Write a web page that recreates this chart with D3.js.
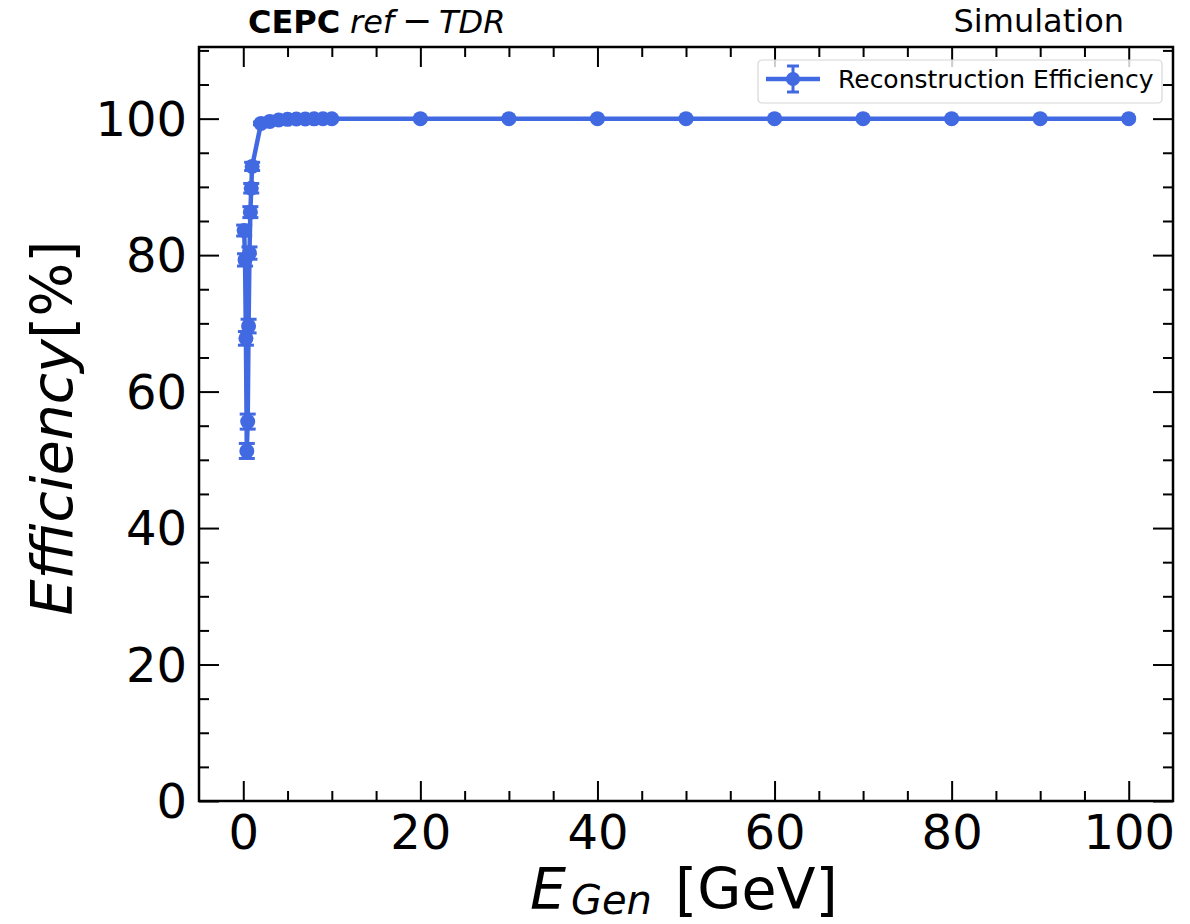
<!DOCTYPE html>
<html>
<head>
<meta charset="utf-8">
<script src="https://cdn.jsdelivr.net/npm/d3@7"></script>
<style>
    body { margin: 0; background: #ffffff; }
    text { font-family: "DejaVu Sans", sans-serif; }
</style>
</head>
<body>
<script>
// Generated energies in GeV and the reconstruction efficiency in percent
var energies = [0.1, 0.2, 0.3, 0.4, 0.5, 0.6, 0.7, 0.8, 0.9, 1,
    2, 3, 4, 5, 6, 7, 8, 9, 10,
    20, 30, 40, 50, 60, 70, 80, 90, 100];
var efficiency = [83.6, 79.3, 67.8, 51.3, 55.6, 69.6, 80.3, 86.3, 89.8, 93.0,
    99.3, 99.6, 99.8, 99.9, 99.95, 99.95, 99.97, 99.98, 99.98,
    100, 100, 100, 100, 100, 100, 100, 100, 100];
var efficiencyErr = [0.8, 0.9, 1.0, 1.1, 1.1, 1.0, 0.9, 0.8, 0.7, 0.6,
    0.2, 0.1, 0.1, 0.05, 0.05, 0.05, 0.03, 0.02, 0.02,
    0, 0, 0, 0, 0, 0, 0, 0, 0];

// Axis ticks
var xMajorTicks = [0, 20, 40, 60, 80, 100];
var yMajorTicks = [0, 20, 40, 60, 80, 100];
var minorStep = 5;

var seriesName = "Reconstruction Efficiency";
var colour = "#4169e1";

// Size of the canvas and the frame of the plot
var margin = { top: 47, right: 17, bottom: 123, left: 199 },
    width = 1190 - margin.left - margin.right,
    height = 924 - margin.top - margin.bottom;

var svg = d3.select("body").append("svg")
    .attr("width", 1190)
    .attr("height", 924);

var g = svg.append("g")
    .attr("transform", "translate(" + margin.left + "," + margin.top + ")");

var x = d3.scaleLinear().domain([-5, 105]).range([0, width]);
var y = d3.scaleLinear().domain([0, 110.5]).range([height, 0]);

var data = energies.map(function (e, i) {
    return { e: e, v: efficiency[i], err: efficiencyErr[i] };
});

drawTicks();
drawSeries();
drawFrame();
drawLegend();
drawTexts();

// Inward ticks on all four sides, majors every 20 and minors every 5
function drawTicks() {
    var xMinor = d3.range(0, 100 + 0.1, minorStep).filter(function (v) { return xMajorTicks.indexOf(v) < 0; });
    var yMinor = d3.range(0, 110 + 0.1, minorStep).filter(function (v) { return yMajorTicks.indexOf(v) < 0; });

    var bottom = g.append("g").attr("transform", "translate(0," + height + ")")
        .call(d3.axisBottom(x).tickValues(xMajorTicks).tickSizeInner(-20).tickSizeOuter(0).tickPadding(32));
    g.append("g")
        .call(d3.axisTop(x).tickValues(xMajorTicks).tickSizeInner(-20).tickSizeOuter(0).tickFormat(""));
    var left = g.append("g")
        .call(d3.axisLeft(y).tickValues(yMajorTicks).tickSizeInner(-20).tickSizeOuter(0).tickPadding(32));
    g.append("g").attr("transform", "translate(" + width + ",0)")
        .call(d3.axisRight(y).tickValues(yMajorTicks).tickSizeInner(-20).tickSizeOuter(0).tickFormat(""));

    g.append("g").attr("transform", "translate(0," + height + ")")
        .call(d3.axisBottom(x).tickValues(xMinor).tickSizeInner(-10).tickSizeOuter(0).tickFormat(""));
    g.append("g")
        .call(d3.axisTop(x).tickValues(xMinor).tickSizeInner(-10).tickSizeOuter(0).tickFormat(""));
    g.append("g")
        .call(d3.axisLeft(y).tickValues(yMinor).tickSizeInner(-10).tickSizeOuter(0).tickFormat(""));
    g.append("g").attr("transform", "translate(" + width + ",0)")
        .call(d3.axisRight(y).tickValues(yMinor).tickSizeInner(-10).tickSizeOuter(0).tickFormat(""));

    g.selectAll(".domain").remove();
    g.selectAll(".tick line").attr("stroke", "#000").attr("stroke-width", 2);

    bottom.selectAll("text")
        .attr("font-size", "48px")
        .attr("font-family", "DejaVu Sans")
        .attr("fill", "#000")
        .attr("dy", "0.71em")
        .attr("y", 14);
    left.selectAll("text")
        .attr("font-size", "48px")
        .attr("font-family", "DejaVu Sans")
        .attr("fill", "#000")
        .attr("x", -12)
        .attr("dy", "0.35em");
}

// Connecting line, error bars and markers
function drawSeries() {
    var line = d3.line()
        .x(function (d) { return x(d.e); })
        .y(function (d) { return y(d.v); });

    g.append("path")
        .datum(data)
        .attr("fill", "none")
        .attr("stroke", colour)
        .attr("stroke-width", 4.5)
        .attr("stroke-linejoin", "round")
        .attr("d", line);

    var bars = g.append("g").selectAll("g")
        .data(data.filter(function (d) { return d.err > 0; }))
        .enter().append("g");
    bars.append("line")
        .attr("x1", function (d) { return x(d.e); })
        .attr("x2", function (d) { return x(d.e); })
        .attr("y1", function (d) { return y(d.v - d.err); })
        .attr("y2", function (d) { return y(d.v + d.err); })
        .attr("stroke", colour).attr("stroke-width", 3);
    [-1, 1].forEach(function (s) {
        bars.append("line")
            .attr("x1", function (d) { return x(d.e) - 8; })
            .attr("x2", function (d) { return x(d.e) + 8; })
            .attr("y1", function (d) { return y(d.v + s * d.err); })
            .attr("y2", function (d) { return y(d.v + s * d.err); })
            .attr("stroke", colour).attr("stroke-width", 3);
    });

    g.append("g").selectAll("circle")
        .data(data)
        .enter().append("circle")
        .attr("cx", function (d) { return x(d.e); })
        .attr("cy", function (d) { return y(d.v); })
        .attr("r", 7.5)
        .attr("fill", colour);
}

// Black frame round the plot
function drawFrame() {
    g.append("rect")
        .attr("width", width)
        .attr("height", height)
        .attr("fill", "none")
        .attr("stroke", "#000")
        .attr("stroke-width", 2.5);
}

// Legend in the top right corner
function drawLegend() {
    var lg = svg.append("g").attr("transform", "translate(758,60)");
    lg.append("rect")
        .attr("width", 404).attr("height", 43)
        .attr("rx", 4)
        .attr("fill", "#ffffff").attr("fill-opacity", 0.8)
        .attr("stroke", "#d6d6d6").attr("stroke-width", 1.2);
    lg.append("line").attr("x1", 8).attr("x2", 62).attr("y1", 19).attr("y2", 19)
        .attr("stroke", colour).attr("stroke-width", 4.5);
    lg.append("line").attr("x1", 35).attr("x2", 35).attr("y1", 6).attr("y2", 32)
        .attr("stroke", colour).attr("stroke-width", 3);
    [6, 32].forEach(function (yy) {
        lg.append("line").attr("x1", 29).attr("x2", 41).attr("y1", yy).attr("y2", yy)
            .attr("stroke", colour).attr("stroke-width", 3);
    });
    lg.append("circle").attr("cx", 35).attr("cy", 19).attr("r", 7).attr("fill", colour);
    lg.append("text")
        .attr("x", 80).attr("y", 28)
        .attr("font-size", "25px")
        .attr("fill", "#000")
        .text(seriesName);
}

// Title texts and axis labels
function drawTexts() {
    var title = svg.append("text").attr("y", 33).attr("font-size", "32px").attr("fill", "#000");
    title.append("tspan").attr("x", 248).attr("font-weight", "bold").text("CEPC");
    title.append("tspan").attr("x", 350).attr("font-style", "italic").text("ref");
    title.append("tspan").attr("x", 402).attr("font-size", "36px").text("\u2212");
    title.append("tspan").attr("x", 439).attr("font-style", "italic").text("TDR");

    svg.append("text")
        .attr("x", 1124).attr("y", 32)
        .attr("text-anchor", "end")
        .attr("font-size", "32px")
        .attr("fill", "#000")
        .text("Simulation");

    // x-axis label with the subscript
    var xl = svg.append("text").attr("y", 909).attr("font-size", "57px").attr("fill", "#000");
    xl.append("tspan").attr("x", 530).attr("font-style", "italic").text("E");
    xl.append("tspan").attr("x", 571).attr("dy", 5).attr("font-size", "40px").attr("font-style", "italic").text("Gen");
    xl.append("tspan").attr("x", 675).attr("dy", -5).text("[GeV]");

    // y-axis label
    var yl = svg.append("text")
        .attr("transform", "translate(72," + (margin.top + height / 2 + 4) + ") rotate(-90)")
        .attr("text-anchor", "middle")
        .attr("font-size", "57px")
        .attr("fill", "#000");
    yl.append("tspan").attr("font-style", "italic").text("Efficiency");
    yl.append("tspan").text("[%]");
}
</script>
</body>
</html>
